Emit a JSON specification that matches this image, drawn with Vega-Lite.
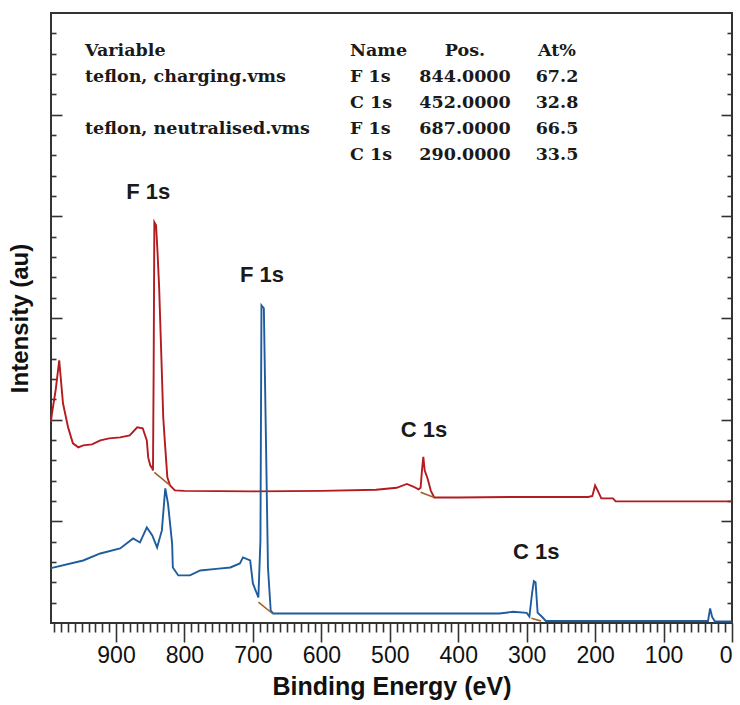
{
  "$schema": "https://vega.github.io/schema/vega-lite/v6.json",
  "width": 681,
  "height": 610,
  "autosize": {"type": "none"},
  "padding": {"left": 51, "top": 13, "right": 8, "bottom": 82},
  "background": "white",
  "config": {
    "view": {"stroke": "#333", "strokeWidth": 2},
    "axis": {"domain": false, "grid": false, "tickColor": "#333", "tickWidth": 1.6, "labelFont": "Liberation Sans", "titleFont": "Liberation Sans", "labelColor": "#111", "titleColor": "#111"}
  },
  "datasets": {
    "spectra": [
      {"series": "charging", "be": 995, "i": 1980},
      {"series": "charging", "be": 994, "i": 2043},
      {"series": "charging", "be": 988, "i": 2300},
      {"series": "charging", "be": 983, "i": 2584},
      {"series": "charging", "be": 977.5, "i": 2161},
      {"series": "charging", "be": 970, "i": 1924},
      {"series": "charging", "be": 963, "i": 1767},
      {"series": "charging", "be": 955, "i": 1728},
      {"series": "charging", "be": 948, "i": 1747},
      {"series": "charging", "be": 935, "i": 1757},
      {"series": "charging", "be": 923, "i": 1796},
      {"series": "charging", "be": 910, "i": 1816},
      {"series": "charging", "be": 894, "i": 1826},
      {"series": "charging", "be": 880, "i": 1846},
      {"series": "charging", "be": 869, "i": 1924},
      {"series": "charging", "be": 861, "i": 1915},
      {"series": "charging", "be": 855, "i": 1796},
      {"series": "charging", "be": 853, "i": 1629},
      {"series": "charging", "be": 850, "i": 1550},
      {"series": "charging", "be": 847, "i": 1521},
      {"series": "charging", "be": 846, "i": 1501},
      {"series": "charging", "be": 845, "i": 2500},
      {"series": "charging", "be": 844, "i": 3943},
      {"series": "charging", "be": 841.5, "i": 3913},
      {"series": "charging", "be": 839.5, "i": 3667},
      {"series": "charging", "be": 837, "i": 3303},
      {"series": "charging", "be": 833.5, "i": 2565},
      {"series": "charging", "be": 831, "i": 2023},
      {"series": "charging", "be": 828.5, "i": 1767},
      {"series": "charging", "be": 825, "i": 1432},
      {"series": "charging", "be": 821, "i": 1353},
      {"series": "charging", "be": 814, "i": 1304},
      {"series": "charging", "be": 800, "i": 1300},
      {"series": "charging", "be": 700, "i": 1295},
      {"series": "charging", "be": 600, "i": 1300},
      {"series": "charging", "be": 520, "i": 1310},
      {"series": "charging", "be": 490, "i": 1330},
      {"series": "charging", "be": 475, "i": 1368},
      {"series": "charging", "be": 465, "i": 1340},
      {"series": "charging", "be": 458, "i": 1315},
      {"series": "charging", "be": 455, "i": 1330},
      {"series": "charging", "be": 453, "i": 1500},
      {"series": "charging", "be": 451, "i": 1634},
      {"series": "charging", "be": 449, "i": 1500},
      {"series": "charging", "be": 445, "i": 1427},
      {"series": "charging", "be": 440, "i": 1300},
      {"series": "charging", "be": 435, "i": 1235},
      {"series": "charging", "be": 400, "i": 1235},
      {"series": "charging", "be": 300, "i": 1240},
      {"series": "charging", "be": 210, "i": 1240},
      {"series": "charging", "be": 204, "i": 1250},
      {"series": "charging", "be": 200, "i": 1353},
      {"series": "charging", "be": 196, "i": 1300},
      {"series": "charging", "be": 191, "i": 1226},
      {"series": "charging", "be": 174, "i": 1226},
      {"series": "charging", "be": 170, "i": 1196},
      {"series": "charging", "be": 0, "i": 1196},
      {"series": "neutralised", "be": 995, "i": 540},
      {"series": "neutralised", "be": 948, "i": 615},
      {"series": "neutralised", "be": 923, "i": 684},
      {"series": "neutralised", "be": 894, "i": 733},
      {"series": "neutralised", "be": 875, "i": 832},
      {"series": "neutralised", "be": 865, "i": 792},
      {"series": "neutralised", "be": 855, "i": 940},
      {"series": "neutralised", "be": 847, "i": 861},
      {"series": "neutralised", "be": 840, "i": 743},
      {"series": "neutralised", "be": 833, "i": 911},
      {"series": "neutralised", "be": 829.5, "i": 1206},
      {"series": "neutralised", "be": 828, "i": 1324},
      {"series": "neutralised", "be": 824, "i": 1172},
      {"series": "neutralised", "be": 818, "i": 778},
      {"series": "neutralised", "be": 817, "i": 546},
      {"series": "neutralised", "be": 809, "i": 468},
      {"series": "neutralised", "be": 792, "i": 468},
      {"series": "neutralised", "be": 777, "i": 517},
      {"series": "neutralised", "be": 750, "i": 535},
      {"series": "neutralised", "be": 733, "i": 546},
      {"series": "neutralised", "be": 719, "i": 586},
      {"series": "neutralised", "be": 714.5, "i": 645},
      {"series": "neutralised", "be": 704, "i": 615},
      {"series": "neutralised", "be": 700, "i": 389},
      {"series": "neutralised", "be": 692, "i": 251},
      {"series": "neutralised", "be": 689, "i": 812},
      {"series": "neutralised", "be": 687.5, "i": 3125},
      {"series": "neutralised", "be": 684, "i": 3096},
      {"series": "neutralised", "be": 681, "i": 1826},
      {"series": "neutralised", "be": 678, "i": 546},
      {"series": "neutralised", "be": 674, "i": 123},
      {"series": "neutralised", "be": 670.5, "i": 94},
      {"series": "neutralised", "be": 600, "i": 94},
      {"series": "neutralised", "be": 500, "i": 94},
      {"series": "neutralised", "be": 400, "i": 94},
      {"series": "neutralised", "be": 340, "i": 94},
      {"series": "neutralised", "be": 320, "i": 110},
      {"series": "neutralised", "be": 300, "i": 100},
      {"series": "neutralised", "be": 296, "i": 64},
      {"series": "neutralised", "be": 292, "i": 300},
      {"series": "neutralised", "be": 289.5, "i": 412},
      {"series": "neutralised", "be": 287, "i": 400},
      {"series": "neutralised", "be": 284, "i": 100},
      {"series": "neutralised", "be": 278, "i": 64},
      {"series": "neutralised", "be": 272, "i": 20},
      {"series": "neutralised", "be": 200, "i": 20},
      {"series": "neutralised", "be": 35, "i": 20},
      {"series": "neutralised", "be": 32, "i": 143},
      {"series": "neutralised", "be": 29, "i": 60},
      {"series": "neutralised", "be": 25, "i": 15},
      {"series": "neutralised", "be": 0, "i": 15}
    ],
    "backgrounds": [
      {"series": "charging", "peak": "F 1s", "be": 844, "i": 1481},
      {"series": "charging", "peak": "F 1s", "be": 821, "i": 1353},
      {"series": "charging", "peak": "C 1s", "be": 455, "i": 1287},
      {"series": "charging", "peak": "C 1s", "be": 435, "i": 1235},
      {"series": "neutralised", "peak": "F 1s", "be": 692, "i": 205},
      {"series": "neutralised", "peak": "F 1s", "be": 671, "i": 91},
      {"series": "neutralised", "peak": "C 1s", "be": 293, "i": 46},
      {"series": "neutralised", "peak": "C 1s", "be": 279, "i": 20}
    ],
    "peaks": [
      {"label": "F 1s", "be": 853, "i": 4238},
      {"label": "F 1s", "be": 686.7, "i": 3421},
      {"label": "C 1s", "be": 450, "i": 1895},
      {"label": "C 1s", "be": 286, "i": 700}
    ],
    "table": [
      {"row": 0, "variable": "Variable", "name": "Name", "pos": "Pos.", "at": "At%"},
      {"row": 1, "variable": "teflon, charging.vms", "name": "F 1s", "pos": "844.0000", "at": "67.2"},
      {"row": 2, "variable": "", "name": "C 1s", "pos": "452.0000", "at": "32.8"},
      {"row": 3, "variable": "teflon, neutralised.vms", "name": "F 1s", "pos": "687.0000", "at": "66.5"},
      {"row": 4, "variable": "", "name": "C 1s", "pos": "290.0000", "at": "33.5"}
    ]
  },
  "resolve": {"scale": {"y": "independent"}, "axis": {"x": "independent", "y": "independent"}},
  "layer": [
    {
      "data": {"name": "spectra"},
      "mark": {"type": "line", "strokeWidth": 1.9},
      "encoding": {
        "x": {"field": "be", "type": "quantitative", "scale": {"domain": [995, 0], "nice": false, "zero": false},
          "axis": {"orient": "bottom", "values": [900, 800, 700, 600, 500, 400, 300, 200, 100, 0], "tickSize": 19, "labelFontSize": 23, "labelPadding": 2, "title": "Binding Energy (eV)", "titleFontSize": 25, "titleFontWeight": "bold", "titlePadding": 7}},
        "y": {"field": "i", "type": "quantitative", "scale": {"domain": [0, 6000], "nice": false, "zero": false},
          "axis": {"orient": "left", "values": [1000, 2000, 3000, 4000, 5000], "tickSize": -11, "labels": false, "title": "Intensity (au)", "titleFontSize": 24, "titleFontWeight": "bold", "titlePadding": 18}},
        "color": {"field": "series", "type": "nominal", "scale": {"domain": ["charging", "neutralised"], "range": ["#b31b1f", "#1f5c9e"]}, "legend": null},
        "order": {"field": "be", "sort": "descending"}
      }
    },
    {
      "data": {"name": "backgrounds"},
      "transform": [{"filter": "datum.series == 'charging'"}],
      "mark": {"type": "line", "strokeWidth": 1.6, "color": "#a0612a"},
      "encoding": {
        "x": {"field": "be", "type": "quantitative", "scale": {"domain": [995, 0], "nice": false, "zero": false},
          "axis": {"orient": "bottom", "values": [990, 980, 970, 960, 950, 940, 930, 920, 910, 890, 880, 870, 860, 850, 840, 830, 820, 810, 790, 780, 770, 760, 750, 740, 730, 720, 710, 690, 680, 670, 660, 650, 640, 630, 620, 610, 590, 580, 570, 560, 550, 540, 530, 520, 510, 490, 480, 470, 460, 450, 440, 430, 420, 410, 390, 380, 370, 360, 350, 340, 330, 320, 310, 290, 280, 270, 260, 250, 240, 230, 220, 210, 190, 180, 170, 160, 150, 140, 130, 120, 110, 90, 80, 70, 60, 50, 40, 30, 20, 10], "tickSize": 9, "labels": false, "title": null}},
        "y": {"field": "i", "type": "quantitative", "scale": {"domain": [0, 6000], "nice": false, "zero": false},
          "axis": {"orient": "left", "values": [200, 400, 600, 800, 1200, 1400, 1600, 1800, 2200, 2400, 2600, 2800, 3200, 3400, 3600, 3800, 4200, 4400, 4600, 4800, 5200, 5400, 5600, 5800], "tickSize": -5, "labels": false, "title": null}},
        "detail": {"field": "peak", "type": "nominal"}
      }
    },
    {
      "data": {"name": "backgrounds"},
      "transform": [{"filter": "datum.series == 'neutralised'"}],
      "mark": {"type": "line", "strokeWidth": 1.6, "color": "#a0612a"},
      "encoding": {
        "x": {"field": "be", "type": "quantitative", "scale": {"domain": [995, 0], "nice": false, "zero": false}, "axis": null},
        "y": {"field": "i", "type": "quantitative", "scale": {"domain": [0, 6000], "nice": false, "zero": false},
          "axis": {"orient": "right", "values": [200, 400, 600, 800, 1200, 1400, 1600, 1800, 2200, 2400, 2600, 2800, 3200, 3400, 3600, 3800, 4200, 4400, 4600, 4800, 5200, 5400, 5600, 5800], "tickSize": -5, "labels": false, "title": null}},
        "detail": {"field": "peak", "type": "nominal"}
      }
    },
    {
      "data": {"name": "peaks"},
      "mark": {"type": "text", "font": "Liberation Sans", "fontSize": 22, "fontWeight": "bold", "color": "#1a1a1a", "baseline": "middle", "align": "center"},
      "encoding": {
        "x": {"field": "be", "type": "quantitative", "scale": {"domain": [995, 0], "nice": false, "zero": false}, "axis": null},
        "y": {"field": "i", "type": "quantitative", "scale": {"domain": [0, 6000], "nice": false, "zero": false},
          "axis": {"orient": "right", "values": [1000, 2000, 3000, 4000, 5000], "tickSize": -11, "labels": false, "title": null}},
        "text": {"field": "label"}
      }
    },
    {
      "data": {"name": "table"},
      "mark": {"type": "text", "font": "DejaVu Serif", "fontSize": 17.5, "fontWeight": "bold", "color": "#1a1a1a", "baseline": "middle", "align": "left"},
      "encoding": {
        "x": {"datum": 945.3, "type": "quantitative", "axis": null},
        "y": {"field": "row", "type": "quantitative", "scale": {"domain": [-1.46, 21.98], "reverse": true, "nice": false, "zero": false}, "axis": null},
        "text": {"field": "variable"}
      }
    },
    {
      "data": {"name": "table"},
      "mark": {"type": "text", "font": "DejaVu Serif", "fontSize": 17.5, "fontWeight": "bold", "color": "#1a1a1a", "baseline": "middle", "align": "left"},
      "encoding": {
        "x": {"datum": 558.1, "type": "quantitative", "axis": null},
        "y": {"field": "row", "type": "quantitative", "scale": {"domain": [-1.46, 21.98], "reverse": true, "nice": false, "zero": false}, "axis": null},
        "text": {"field": "name"}
      }
    },
    {
      "data": {"name": "table"},
      "mark": {"type": "text", "font": "DejaVu Serif", "fontSize": 17.5, "fontWeight": "bold", "color": "#1a1a1a", "baseline": "middle", "align": "center"},
      "encoding": {
        "x": {"datum": 390.1, "type": "quantitative", "axis": null},
        "y": {"field": "row", "type": "quantitative", "scale": {"domain": [-1.46, 21.98], "reverse": true, "nice": false, "zero": false}, "axis": null},
        "text": {"field": "pos"}
      }
    },
    {
      "data": {"name": "table"},
      "mark": {"type": "text", "font": "DejaVu Serif", "fontSize": 17.5, "fontWeight": "bold", "color": "#1a1a1a", "baseline": "middle", "align": "center"},
      "encoding": {
        "x": {"datum": 255.7, "type": "quantitative", "axis": null},
        "y": {"field": "row", "type": "quantitative", "scale": {"domain": [-1.46, 21.98], "reverse": true, "nice": false, "zero": false}, "axis": null},
        "text": {"field": "at"}
      }
    }
  ]
}
